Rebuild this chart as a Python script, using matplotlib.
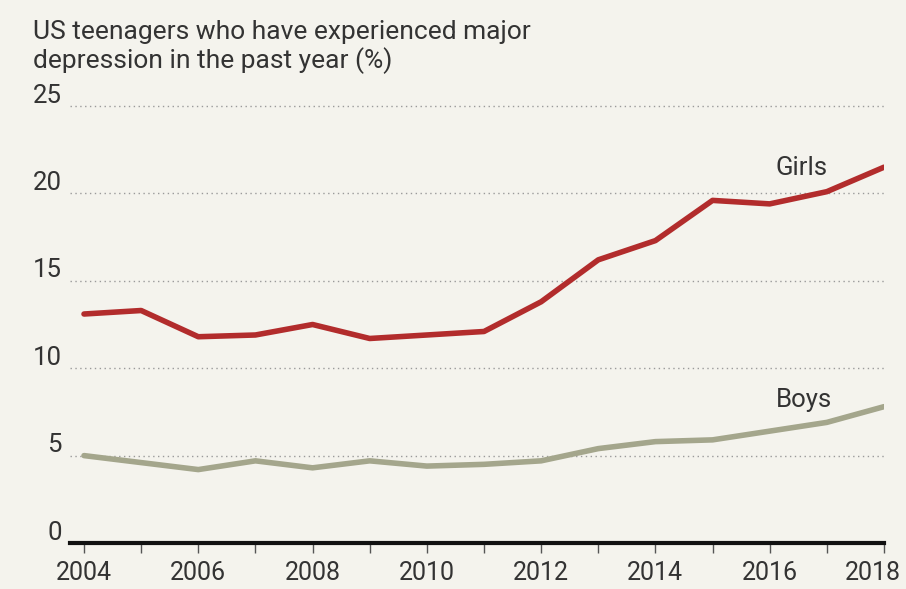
import matplotlib.pyplot as plt
import matplotlib.transforms as mtransforms

# Данные
years = list(range(2004, 2019))
girls = [13.1, 13.3, 11.8, 11.9, 12.5, 11.7, 11.9, 12.1, 13.8, 16.2, 17.3, 19.6, 19.4, 20.1, 21.5]
boys = [5.0, 4.6, 4.2, 4.7, 4.3, 4.7, 4.4, 4.5, 4.7, 5.4, 5.8, 5.9, 6.4, 6.9, 7.8]
y_ticks = [0, 5, 10, 15, 20, 25]
x_labels = [2004, 2006, 2008, 2010, 2012, 2014, 2016, 2018]

bg = '#f4f3ed'
red = '#b22c2c'
olive = '#a4a68c'
txt = '#333333'

plt.rcParams['font.family'] = ['Roboto', 'DejaVu Sans']

fig = plt.figure(figsize=(9.06, 5.89), dpi=100)
fig.patch.set_facecolor(bg)

# оси: слева 70px, справа 884px, низ 543px, верх 106px (y=25)
W, H = 906, 589
left, right = 70 / W, 884 / W
bottom = (H - 543) / H
top = (H - 88) / H
ax = fig.add_axes([left, bottom, right - left, top - bottom])
ax.set_facecolor(bg)

x0 = 2004 - (84 - 70) / 57.14
ax.set_xlim(x0, 2018)
ax.set_ylim(0, 25 * (543 - 88) / (543 - 106))

# пунктирные линии сетки
for v in y_ticks[1:]:
    ax.axhline(v, color='#9a9a9a', lw=1.0, ls=(0, (1, 2.5)), zorder=1)

ax.plot(years, girls, color=red, lw=4.0, solid_capstyle='round', solid_joinstyle='round', zorder=3)
ax.plot(years, boys, color=olive, lw=4.0, solid_capstyle='round', solid_joinstyle='round', zorder=3)

ax.text(2016.55, 21.45, 'Girls', fontsize=18.5, color=txt, ha='center', va='center')
ax.text(2016.6, 8.2, 'Boys', fontsize=18.5, color=txt, ha='center', va='center')

# подписи оси y слева над линиями
trans = mtransforms.blended_transform_factory(fig.transFigure, ax.transData)
for v in y_ticks:
    ax.text(62 / W, v + 0.2, str(v), transform=trans, fontsize=18.5, color=txt,
            ha='right', va='baseline', clip_on=False)

for s in ['top', 'right', 'left']:
    ax.spines[s].set_visible(False)
ax.spines['bottom'].set_color('#111111')
ax.spines['bottom'].set_linewidth(3)
ax.spines['bottom'].set_zorder(4)

ax.set_yticks([])
ax.set_xticks(years, minor=False)
ax.set_xticklabels([str(y) if y in x_labels else '' for y in years], fontsize=18, color=txt)
ax.tick_params(axis='x', length=7, width=1, color='#555555', pad=6)

# последняя подпись (2018) чуть левее, чтобы не обрезалась
last = ax.get_xticklabels()[-1]
last.set_transform(last.get_transform() + mtransforms.ScaledTranslation(-11 / 100, 0, fig.dpi_scale_trans))

fig.text(33 / W, 1 - 47 / H, 'US teenagers who have experienced major\ndepression in the past year (%)',
         fontsize=19, color=txt, ha='left', va='center', linespacing=1.15)

fig.savefig('out.png', dpi=100, facecolor=bg)
